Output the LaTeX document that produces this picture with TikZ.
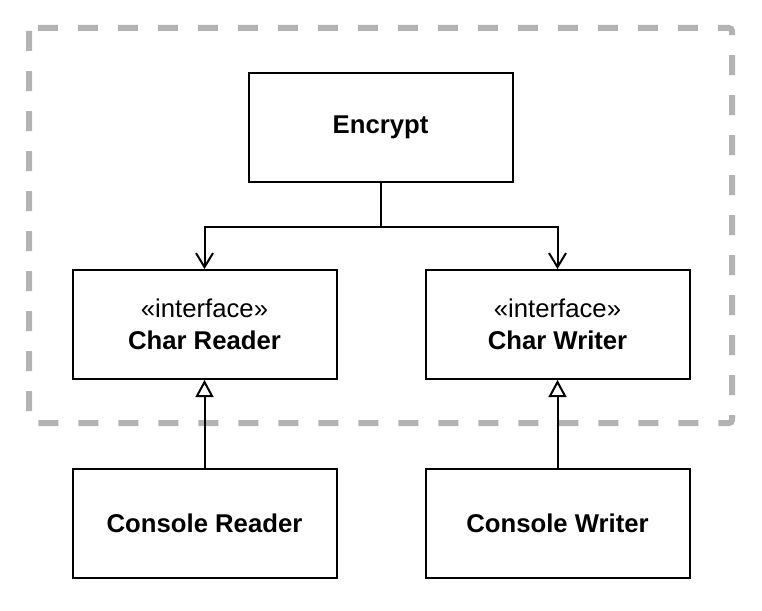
\documentclass[tikz,border=0pt]{standalone}
\usepackage{fontspec}
\setmainfont{Liberation Sans}
\usetikzlibrary{arrows.meta,calc}
\definecolor{dashgray}{HTML}{B3B3B3}
\begin{document}
\begin{tikzpicture}[x=1pt,y=-1pt,
  box/.style={draw=black,line width=2pt,fill=white,minimum width=264pt,minimum height=109pt,inner sep=0pt,align=center,font=\fontsize{25.7}{32}\selectfont},
  assoc/.style={draw=black,line width=2pt,-{Straight Barb[length=14pt,width=17pt]}},
  genline/.style={draw=black,line width=2pt},
  genhead/.style={draw=black,line width=2pt,fill=white,line join=miter},
  frame/.style={draw=dashgray,line width=6pt,dash pattern=on 20pt off 20pt,rounded corners=3pt}]
\useasboundingbox (0,0) rectangle (762,610);
\draw[frame] (29,28) rectangle (732,423);
\node[box] (enc) at (380.5,127) {\textbf{Encrypt}};
\node[box] (cr) at (204.5,324.5) {«interface»\\\textbf{Char Reader}};
\node[box] (cw) at (557.5,324.5) {«interface»\\\textbf{Char Writer}};
\node[box] (conr) at (204.5,523) {\textbf{Console Reader}};
\node[box] (conw) at (557.5,523) {\textbf{Console Writer}};
\coordinate (j) at ($(enc.south)+(0,44)$);
\draw[assoc] (enc.south) -- (j) -| (cr.north);
\draw[assoc] (j) -| (cw.north);
\draw[genline] (conr.north) -- ($(cr.south)+(0,16)$);
\draw[genhead] ($(cr.south)+(0,2)$) -- ++(-7.5,14) -- ++(15,0) -- cycle;
\draw[genline] (conw.north) -- ($(cw.south)+(0,16)$);
\draw[genhead] ($(cw.south)+(0,2)$) -- ++(-7.5,14) -- ++(15,0) -- cycle;
\end{tikzpicture}
\end{document}
